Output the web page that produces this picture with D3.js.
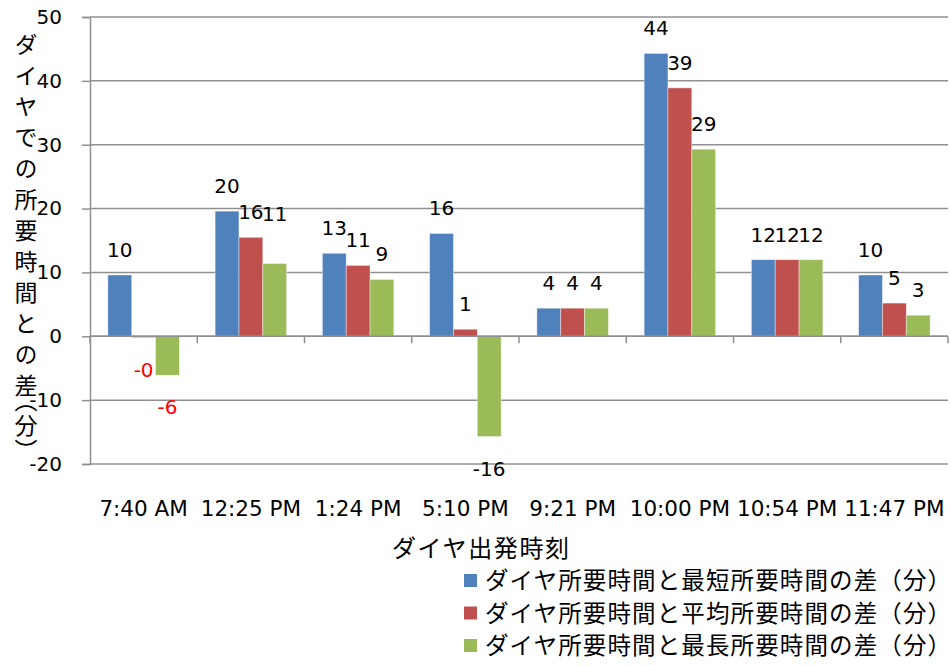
<!DOCTYPE html>
<html>
<head>
<meta charset="utf-8">
<script src="https://cdn.jsdelivr.net/npm/d3@7"></script>
<style>
  body { margin: 0; background: #fff; }
  text { font-family: "DejaVu Sans", "Noto Sans CJK JP", sans-serif; }
  .jp { font-family: "Noto Sans CJK JP", sans-serif; }
</style>
</head>
<body>
<svg width="951" height="666"></svg>
<script>
// Data
const categories = ['7:40 AM', '12:25 PM', '1:24 PM', '5:10 PM', '9:21 PM', '10:00 PM', '10:54 PM', '11:47 PM'];
const seriesNames = [
  'ダイヤ所要時間と最短所要時間の差（分）',
  'ダイヤ所要時間と平均所要時間の差（分）',
  'ダイヤ所要時間と最長所要時間の差（分）'
];
const shortestDiff = [9.6, 19.6, 13.0, 16.1, 4.4, 44.3, 12.0, 9.6];
const averageDiff = [-0.2, 15.5, 11.1, 1.1, 4.4, 38.9, 12.0, 5.2];
const longestDiff = [-6.1, 11.4, 8.9, -15.7, 4.4, 29.3, 12.0, 3.3];
const yTicks = [-20, -10, 0, 10, 20, 30, 40, 50];

const colors = ['#4F81BD', '#C0504D', '#9BBB59'];
const seriesValues = [shortestDiff, averageDiff, longestDiff];

// labels shown in red (negative number format) and one label that sits higher
const redLabels = new Set(['1:0', '2:0']);
const labelNudge = { '2:1': -24 };

const svg = d3.select('svg');
svg.append('rect').attr('width', 951).attr('height', 666).attr('fill', '#fff');

const x = d3.scaleBand()
  .domain(categories)
  .range([90, 948])
  .paddingInner(1.5 / 4.5)
  .paddingOuter(0.75 / 4.5);

const xs = d3.scaleBand()
  .domain(d3.range(seriesNames.length))
  .range([0, x.bandwidth()]);

const y = d3.scaleLinear().domain([-20, 50]).range([464, 17]);

// gridlines
svg.append('g')
  .selectAll('line')
  .data(yTicks)
  .join('line')
  .attr('x1', 90).attr('x2', 948)
  .attr('y1', d => y(d)).attr('y2', d => y(d))
  .attr('stroke', '#909090')
  .attr('stroke-width', 1.5);

// y axis
const yAxis = svg.append('g')
  .attr('transform', 'translate(90,0)')
  .call(d3.axisLeft(y).tickValues(yTicks).tickSize(8).tickPadding(20).tickFormat(d => String(d)));
yAxis.select('.domain').attr('stroke', '#909090').attr('stroke-width', 1.5);
yAxis.selectAll('.tick line').attr('stroke', '#909090').attr('stroke-width', 1.5);
yAxis.selectAll('.tick text')
  .attr('font-size', 20)
  .attr('fill', '#000')
  .style('font-family', '"DejaVu Sans", sans-serif');

// bars
const rows = seriesValues.flatMap((vals, s) => vals.map((v, i) => ({ s, i, v, cat: categories[i] })));

svg.append('g')
  .selectAll('rect')
  .data(rows)
  .join('rect')
  .attr('x', d => x(d.cat) + xs(d.s))
  .attr('width', xs.bandwidth())
  .attr('y', d => Math.min(y(d.v), y(0)))
  .attr('height', d => Math.abs(y(d.v) - y(0)))
  .attr('fill', d => colors[d.s])
  .attr('stroke', '#ffffff')
  .attr('stroke-opacity', 0.5)
  .attr('stroke-width', 0.8);

// x axis line at zero with category boundary ticks
svg.append('line')
  .attr('x1', 90).attr('x2', 948)
  .attr('y1', y(0)).attr('y2', y(0))
  .attr('stroke', '#909090').attr('stroke-width', 1.5);

const boundaries = categories.map(c => x(c) - x.step() * x.paddingOuter()).concat([948]);
svg.append('g')
  .selectAll('line')
  .data(boundaries)
  .join('line')
  .attr('x1', d => d).attr('x2', d => d)
  .attr('y1', y(0)).attr('y2', y(0) + 7)
  .attr('stroke', '#909090').attr('stroke-width', 1.5);

// category labels
svg.append('g')
  .selectAll('text')
  .data(categories)
  .join('text')
  .attr('x', d => x(d) + x.bandwidth() / 2)
  .attr('y', 516)
  .attr('text-anchor', 'middle')
  .attr('font-size', 21.5)
  .text(d => d);

// data labels
const fmt = v => (v < 0 ? '-' : '') + Math.round(Math.abs(v));
svg.append('g')
  .selectAll('text')
  .data(rows)
  .join('text')
  .attr('x', d => x(d.cat) + xs(d.s) + xs.bandwidth() / 2)
  .attr('y', d => (d.v >= 0 ? y(d.v) - 18 : y(d.v) + 39) + (labelNudge[d.s + ':' + d.i] || 0))
  .attr('text-anchor', 'middle')
  .attr('font-size', 20)
  .attr('fill', d => redLabels.has(d.s + ':' + d.i) ? '#FF0000' : '#000')
  .text(d => fmt(d.v));

// y axis title (vertical, brackets set tighter)
svg.append('text')
  .attr('class', 'jp')
  .attr('x', 26)
  .attr('y', 33)
  .attr('font-size', 23)
  .style('writing-mode', 'vertical-rl')
  .style('letter-spacing', '8px')
  .text('ダイヤでの所要時間との差');

svg.append('text')
  .attr('class', 'jp')
  .attr('x', 26)
  .attr('y', 389)
  .attr('font-size', 23)
  .style('writing-mode', 'vertical-rl')
  .style('letter-spacing', '2px')
  .text('（分）');

// x axis title
svg.append('text')
  .attr('class', 'jp')
  .attr('x', 392)
  .attr('y', 557)
  .attr('font-size', 24)
  .attr('textLength', 177)
  .text('ダイヤ出発時刻');

// legend
const legend = svg.append('g')
  .selectAll('g')
  .data(seriesNames)
  .join('g')
  .attr('transform', (d, i) => `translate(464,${580 + i * 32.5})`);

legend.append('rect')
  .attr('x', 0).attr('y', -6)
  .attr('width', 13).attr('height', 13)
  .attr('fill', (d, i) => colors[i]);

legend.append('text')
  .attr('class', 'jp')
  .attr('x', 21)
  .attr('y', 9)
  .attr('font-size', 23.5)
  .attr('textLength', 466)
  .text(d => d);
</script>
</body>
</html>
